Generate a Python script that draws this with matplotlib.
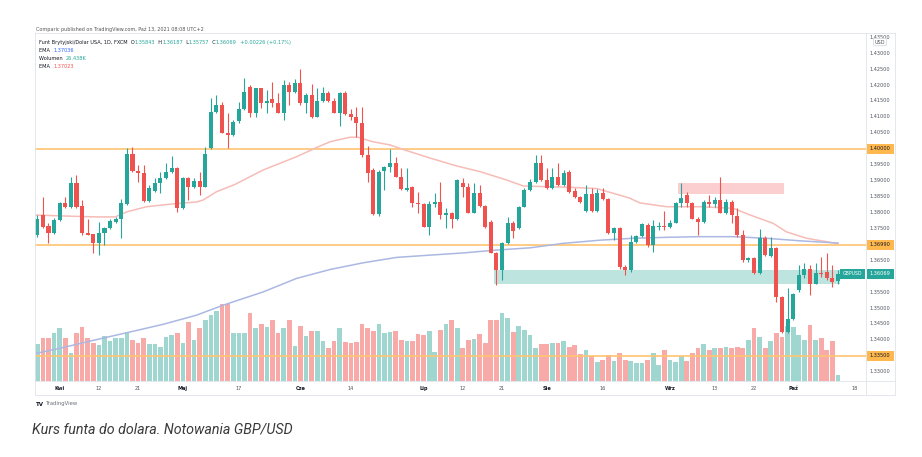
import matplotlib.pyplot as plt
import numpy as np
import pandas as pd
from matplotlib.patches import Rectangle
from matplotlib.lines import Line2D

# GBP/USD daily candles, FXCM, 26 Mar - 13 Oct 2021
dates = pd.bdate_range('2021-03-26', periods=144)
opens = [1.3729, 1.3792, 1.3758, 1.3737, 1.3776, 1.3829, 1.3818, 1.3893, 1.3820, 1.3736,
         1.3732, 1.3703, 1.3734, 1.3750, 1.3771, 1.3778, 1.3826, 1.3983, 1.3930, 1.3923,
         1.3837, 1.3868, 1.3894, 1.3909, 1.3928, 1.3938, 1.3813, 1.3907, 1.3881, 1.3900,
         1.3881, 1.4001, 1.4116, 1.4137, 1.4050, 1.4043, 1.4088, 1.4124, 1.4195, 1.4113,
         1.4190, 1.4145, 1.4155, 1.4144, 1.4113, 1.4200, 1.4179, 1.4205, 1.4143, 1.4169,
         1.4100, 1.4151, 1.4176, 1.4151, 1.4113, 1.4176, 1.4108, 1.4100, 1.4080, 1.3980,
         1.3933, 1.3795, 1.3931, 1.3943, 1.3956, 1.3912, 1.3870, 1.3879, 1.3830, 1.3826,
         1.3755, 1.3826, 1.3834, 1.3792, 1.3797, 1.3778, 1.3891, 1.3879, 1.3799, 1.3860,
         1.3820, 1.3771, 1.3673, 1.3619, 1.3705, 1.3766, 1.3750, 1.3818, 1.3872, 1.3896,
         1.3954, 1.3902, 1.3876, 1.3910, 1.3886, 1.3928, 1.3868, 1.3847, 1.3805, 1.3858,
         1.3805, 1.3860, 1.3841, 1.3734, 1.3750, 1.3629, 1.3619, 1.3708, 1.3726, 1.3760,
         1.3698, 1.3753, 1.3757, 1.3753, 1.3768, 1.3829, 1.3855, 1.3829, 1.3781, 1.3771,
         1.3834, 1.3826, 1.3839, 1.3799, 1.3834, 1.3789, 1.3729, 1.3651, 1.3656, 1.3609,
         1.3719, 1.3663, 1.3690, 1.3535, 1.3425, 1.3467, 1.3556, 1.3603, 1.3624, 1.3577,
         1.3611, 1.3614, 1.3593, 1.35843]
highs = [1.3792, 1.3849, 1.3767, 1.3782, 1.3834, 1.3849, 1.3912, 1.3917, 1.3839, 1.3778,
         1.3732, 1.3771, 1.3755, 1.3778, 1.3786, 1.3841, 1.4001, 1.4006, 1.3949, 1.3949,
         1.3886, 1.3907, 1.3928, 1.3954, 1.3977, 1.3943, 1.3910, 1.3910, 1.3907, 1.3928,
         1.4004, 1.4158, 1.4169, 1.4148, 1.4111, 1.4090, 1.4148, 1.4221, 1.4200, 1.4191,
         1.4191, 1.4184, 1.4210, 1.4174, 1.4216, 1.4210, 1.4218, 1.4249, 1.4174, 1.4203,
         1.4190, 1.4195, 1.4182, 1.4158, 1.4179, 1.4182, 1.4124, 1.4132, 1.4132, 1.4008,
         1.3938, 1.3933, 1.3946, 1.3998, 1.3975, 1.3938, 1.3938, 1.3883, 1.3865, 1.3830,
         1.3837, 1.3860, 1.3896, 1.3813, 1.3802, 1.3904, 1.3907, 1.3891, 1.3891, 1.3886,
         1.3823, 1.3776, 1.3677, 1.3708, 1.3786, 1.3774, 1.3820, 1.3876, 1.3904, 1.3980,
         1.3980, 1.3938, 1.3938, 1.3954, 1.3933, 1.3933, 1.3876, 1.3851, 1.3886, 1.3876,
         1.3873, 1.3876, 1.3844, 1.3755, 1.3753, 1.3635, 1.3729, 1.3729, 1.3766, 1.3766,
         1.3776, 1.3771, 1.3805, 1.3776, 1.3834, 1.3891, 1.3865, 1.3834, 1.3786, 1.3839,
         1.3855, 1.3849, 1.3912, 1.3841, 1.3839, 1.3813, 1.3745, 1.3661, 1.3661, 1.3747,
         1.3726, 1.3722, 1.3692, 1.3537, 1.3563, 1.3547, 1.3635, 1.3641, 1.3635, 1.3640,
         1.3661, 1.3672, 1.3635, 1.36187]
lows = [1.3723, 1.3751, 1.3705, 1.3732, 1.3774, 1.3813, 1.3813, 1.3814, 1.3729, 1.3729,
        1.3672, 1.3666, 1.3698, 1.3748, 1.3766, 1.3719, 1.3823, 1.3928, 1.3896, 1.3834,
        1.3834, 1.3865, 1.3860, 1.3904, 1.3925, 1.3802, 1.3810, 1.3839, 1.3878, 1.3855,
        1.3879, 1.3998, 1.4111, 1.4048, 1.4001, 1.4040, 1.4082, 1.4122, 1.4100, 1.4100,
        1.4128, 1.4111, 1.4132, 1.4111, 1.4090, 1.4137, 1.4176, 1.4137, 1.4111, 1.4095,
        1.4099, 1.4148, 1.4148, 1.4111, 1.4071, 1.4106, 1.4090, 1.4038, 1.3975, 1.3896,
        1.3792, 1.3789, 1.3870, 1.3928, 1.3910, 1.3870, 1.3868, 1.3816, 1.3797, 1.3753,
        1.3729, 1.3818, 1.3778, 1.3750, 1.3750, 1.3776, 1.3849, 1.3797, 1.3797, 1.3818,
        1.3750, 1.3672, 1.3572, 1.3588, 1.3701, 1.3719, 1.3747, 1.3816, 1.3868, 1.3893,
        1.3900, 1.3873, 1.3873, 1.3883, 1.3883, 1.3862, 1.3844, 1.3829, 1.3802, 1.3802,
        1.3802, 1.3839, 1.3732, 1.3713, 1.3624, 1.3603, 1.3614, 1.3703, 1.3722, 1.3692,
        1.3677, 1.3745, 1.3745, 1.3750, 1.3766, 1.3818, 1.3818, 1.3778, 1.3729, 1.3768,
        1.3818, 1.3818, 1.3797, 1.3795, 1.3766, 1.3724, 1.3645, 1.3645, 1.3607, 1.3607,
        1.3663, 1.3661, 1.3520, 1.3422, 1.3421, 1.3464, 1.3551, 1.3594, 1.3540, 1.3575,
        1.3598, 1.3588, 1.3567, 1.35757]
closes = [1.3781, 1.3755, 1.3737, 1.3776, 1.3829, 1.3816, 1.3893, 1.3818, 1.3734, 1.3730,
          1.3703, 1.3734, 1.3750, 1.3773, 1.3781, 1.3830, 1.3983, 1.3930, 1.3923, 1.3837,
          1.3878, 1.3894, 1.3909, 1.3928, 1.3938, 1.3813, 1.3907, 1.3881, 1.3900, 1.3881,
          1.3983, 1.4116, 1.4137, 1.4050, 1.4043, 1.4085, 1.4124, 1.4179, 1.4113, 1.4190,
          1.4143, 1.4150, 1.4144, 1.4113, 1.4200, 1.4179, 1.4205, 1.4143, 1.4169, 1.4100,
          1.4151, 1.4176, 1.4151, 1.4113, 1.4176, 1.4108, 1.4100, 1.4080, 1.3980, 1.3923,
          1.3795, 1.3928, 1.3943, 1.3956, 1.3912, 1.3873, 1.3876, 1.3830, 1.3826, 1.3755,
          1.3826, 1.3834, 1.3792, 1.3797, 1.3779, 1.3902, 1.3879, 1.3799, 1.3860, 1.3820,
          1.3753, 1.3673, 1.3619, 1.3705, 1.3766, 1.3742, 1.3818, 1.3872, 1.3896, 1.3954,
          1.3902, 1.3876, 1.3912, 1.3886, 1.3925, 1.3865, 1.3847, 1.3832, 1.3858, 1.3805,
          1.3860, 1.3841, 1.3734, 1.3750, 1.3629, 1.3619, 1.3708, 1.3726, 1.3764, 1.3698,
          1.3757, 1.3757, 1.3753, 1.3768, 1.3829, 1.3844, 1.3829, 1.3781, 1.3771, 1.3834,
          1.3826, 1.3839, 1.3799, 1.3834, 1.3792, 1.3729, 1.3651, 1.3656, 1.3609, 1.3719,
          1.3666, 1.3690, 1.3535, 1.3425, 1.3467, 1.3544, 1.3603, 1.3624, 1.3577, 1.3611,
          1.3607, 1.3593, 1.3582, 1.36069]
# volume in thousands
volumes = [161, 191, 191, 209, 235, 191, 123, 209, 238, 191,
           167, 157, 198, 176, 191, 191, 216, 179, 165, 187,
           161, 161, 150, 194, 201, 211, 167, 260, 182, 231,
           270, 289, 308, 337, 337, 211, 211, 209, 297, 231,
           249, 238, 270, 209, 231, 270, 152, 241, 197, 220,
           220, 176, 143, 176, 235, 172, 165, 172, 252, 231,
           220, 252, 209, 216, 219, 179, 175, 175, 206, 201,
           219, 128, 226, 252, 267, 233, 147, 182, 184, 206,
           167, 270, 270, 301, 277, 216, 242, 223, 201, 143,
           161, 161, 167, 167, 175, 150, 157, 117, 135, 109,
           84, 94, 113, 88, 121, 94, 87, 81, 79, 91,
           121, 69, 135, 94, 84, 109, 88, 121, 143, 161,
           135, 147, 143, 150, 147, 150, 147, 179, 231, 194,
           147, 176, 211, 194, 241, 238, 201, 179, 245, 179,
           187, 135, 176, 25]

# EMA lines (candle number, price)
ema50_idx = [-0.4, 4.6, 10.6, 13.9, 16.0, 19.5, 23.7, 28.5, 29.6, 32.0, 35.3, 40.3, 46.3,
             49.9, 52.3, 55.8, 57.3, 59.9, 63.0, 65.3, 70.1, 74.9, 79.1, 83.8, 86.8, 91.0,
             95.1, 99.9, 102.9, 105.8, 107.6, 112.4, 118.3, 124.3, 127.3, 131.4, 133.8,
             137.4, 143.0]
ema50_val = [1.3792, 1.3789, 1.3786, 1.3786, 1.3802, 1.3818, 1.3826, 1.3833, 1.3839, 1.3865,
             1.3888, 1.3933, 1.3975, 1.4004, 1.4022, 1.4036, 1.4036, 1.4022, 1.4012, 1.3998,
             1.3971, 1.3946, 1.3928, 1.3902, 1.3883, 1.3881, 1.3879, 1.3875, 1.3860, 1.3845,
             1.3830, 1.3818, 1.3818, 1.3813, 1.3792, 1.3766, 1.3739, 1.3719, 1.3702]
ema200_idx = [-0.4, 4.6, 10.6, 16.6, 22.5, 28.5, 33.2, 40.4, 46.3, 52.3, 58.2, 64.2, 70.1,
              76.1, 82.0, 88.0, 93.9, 100.5, 106.4, 112.4, 118.3, 124.3, 130.2, 136.2, 143.0]
ema200_val = [1.3357, 1.3376, 1.3401, 1.3425, 1.3449, 1.3478, 1.3509, 1.3551, 1.3593, 1.3621,
              1.3642, 1.3659, 1.3666, 1.3673, 1.3682, 1.3689, 1.3703, 1.3713, 1.3719, 1.3722,
              1.3724, 1.3724, 1.3719, 1.3711, 1.3704]

levels = [1.40000, 1.36990, 1.33500]
demand_zone = ('2021-07-20', 1.3577, 1.3619)
supply_zone = ('2021-09-02', '2021-09-29', 1.3858, 1.3891)
last_price = 1.36069
price_ticks = [1.435, 1.43, 1.425, 1.42, 1.415, 1.41, 1.405, 1.395, 1.39, 1.385, 1.38,
               1.375, 1.365, 1.355, 1.35, 1.345, 1.34, 1.33]
date_ticks = ['2021-04-01', '2021-04-12', '2021-04-21', '2021-05-03', '2021-05-17',
              '2021-06-01', '2021-06-14', '2021-07-01', '2021-07-12', '2021-07-21',
              '2021-08-02', '2021-08-16', '2021-09-01', '2021-09-13', '2021-09-22',
              '2021-10-01', '2021-10-18']
month_names = {4: 'Kwi', 5: 'Maj', 6: 'Cze', 7: 'Lip', 8: 'Sie', 9: 'Wrz', 10: 'Paź'}

TEAL = '#26a69a'
RED = '#ef5350'
ORANGE = '#ffc470'
TXT = '#50535e'

W, H = 922, 457
fig = plt.figure(figsize=(W / 100, H / 100), dpi=100)


def fx(px):
    return px / W


def fy(py):
    return 1 - py / H


rect = [fx(35), fy(381), fx(866) - fx(35), fy(35) - fy(381)]
axv = fig.add_axes(rect)
ax = fig.add_axes(rect, sharex=axv)
ax.patch.set_visible(False)
for a in (ax, axv):
    for s in a.spines.values():
        s.set_visible(False)
    a.tick_params(left=False, bottom=False, labelleft=False, labelbottom=False)

x = np.arange(len(opens))
o, h, l, c = (np.array(v) for v in (opens, highs, lows, closes))
up = c >= o
col = np.where(up, TEAL, RED)

# volume pane
axv.bar(x, volumes, width=0.84, color=np.where(up, '#9fd6d0', '#f7aaa8'), linewidth=0)
axv.set_ylim(0, 1522)

ax.set_xlim(-0.41, 148.0)
ax.set_ylim(1.3271, 1.4357)

# zones
z0 = dates.get_loc(pd.Timestamp(demand_zone[0])) - 0.4
ax.add_patch(Rectangle((z0, demand_zone[1]), len(dates) - 0.6 - z0, demand_zone[2] - demand_zone[1],
                       color='#bde4df', lw=0, zorder=1))
s0 = dates.get_loc(pd.Timestamp(supply_zone[0])) + 0.4
s1 = dates.get_loc(pd.Timestamp(supply_zone[1])) + 0.3
ax.add_patch(Rectangle((s0, supply_zone[2]), s1 - s0, supply_zone[3] - supply_zone[2],
                       color='#fbcfcf', lw=0, zorder=1))

for lv in levels:
    ax.axhline(lv, color=ORANGE, lw=1.2, zorder=2)

ax.plot(ema50_idx, ema50_val, color='#f6bcb7', lw=1.1, zorder=3)
ax.plot(ema200_idx, ema200_val, color='#abb8e2', lw=1.1, zorder=3)

# candles
ax.vlines(x, l, h, colors=col, lw=0.8, zorder=4)
ax.bar(x, np.maximum(np.abs(c - o), 0.00012), bottom=np.minimum(o, c), width=0.72,
       color=col, linewidth=0, zorder=5)

# right price scale
ytr = ax.get_yaxis_transform()
for p in price_ticks:
    ax.text(1.0045, p, f'{p:.5f}', transform=ytr, fontsize=3.6, color=TXT,
            va='center', ha='left', clip_on=False)
bh = 0.0031
for lv in levels:
    ax.add_patch(Rectangle((1.0012, lv - bh / 2), 0.0325, bh, transform=ytr,
                           color='#ffb84d', lw=0, clip_on=False, zorder=6))
    ax.text(1.0045, lv, f'{lv:.5f}', transform=ytr, fontsize=3.6, color='#131722',
            va='center', ha='left', clip_on=False, zorder=7)
ax.add_patch(Rectangle((1.0012, last_price - bh / 2), 0.0325, bh, transform=ytr,
                       color=TEAL, lw=0, clip_on=False, zorder=6))
ax.text(1.0045, last_price, f'{last_price:.5f}', transform=ytr, fontsize=3.6,
        color='white', va='center', ha='left', clip_on=False, zorder=7)
ax.add_patch(Rectangle((0.9687, last_price - bh / 2), 0.0301, bh, transform=ytr,
                       color=TEAL, lw=0, clip_on=False, zorder=6))
ax.text(0.9837, last_price, 'GBPUSD', transform=ytr, fontsize=3.3, color='white',
        va='center', ha='center', clip_on=False, zorder=7)
fig.text(fx(880), fy(42), 'USD', fontsize=3.6, color=TXT, ha='center', va='center',
         bbox=dict(boxstyle='round,pad=0.25', fc='white', ec='#d1d4dc', lw=0.5))

# date axis
xtr = ax.get_xaxis_transform()
all_days = pd.bdate_range(dates[0], '2021-10-18')
for d in date_ticks:
    d = pd.Timestamp(d)
    i = all_days.get_loc(d)
    if d.day <= 3:
        ax.text(i, -0.023, month_names[d.month], transform=xtr, fontsize=3.6,
                color='#131722', fontweight='bold', ha='center', va='center', clip_on=False)
    else:
        ax.text(i, -0.023, str(d.day), transform=xtr, fontsize=3.6, color=TXT,
                ha='center', va='center', clip_on=False)

# frame
frame = '#e0e3eb'
for (x0, y0, x1, y1) in [(35, 33, 895, 33), (35, 395, 895, 395), (35, 33, 35, 395),
                         (895, 33, 895, 395), (866, 33, 866, 395), (35, 381, 895, 381)]:
    fig.add_artist(Line2D([fx(x0), fx(x1)], [fy(y0), fy(y1)], color=frame, lw=0.6))


# legend texts, each part placed right after the previous one
def chain(parts, x0, y0):
    prev = fig.text(fx(x0), fy(y0), parts[0][0], color=parts[0][1], fontsize=3.6, va='baseline')
    for s, cl in parts[1:]:
        prev = fig.add_artist(plt.Annotation(s, xy=(1, 0), xycoords=prev, color=cl,
                                             fontsize=3.6, va='bottom', annotation_clip=False))
    return prev


chain([('Funt Brytyjski/Dolar USA, 1D, FXCM  O', '#131722'), ('1.35843', TEAL),
       ('  H', '#131722'), ('1.36187', TEAL), ('  L', '#131722'), ('1.35757', TEAL),
       ('  C', '#131722'), ('1.36069', TEAL), ('  +0.00226 (+0.17%)', TEAL)], 39, 44)
chain([('EMA  ', '#131722'), ('1.37036', '#2962ff')], 39, 51.5)
chain([('Wolumen  ', '#131722'), ('26.438K', TEAL)], 39, 59.5)
chain([('EMA  ', '#131722'), ('1.37023', RED)], 39, 67.5)

fig.text(fx(36), fy(30.5), 'Comparic published on TradingView.com, Paź 13, 2021 08:08 UTC+2',
         fontsize=3.5, color='#555555', va='baseline')
fig.text(fx(36), fy(404), 'TV', fontsize=4, color='#131722', fontweight='bold', va='center')
fig.text(fx(46), fy(404), 'TradingView', fontsize=3.8, color='#6a6d78', va='center')
fig.text(fx(32), fy(429), 'Kurs funta do dolara. Notowania GBP/USD', fontsize=10.3,
         family='Roboto', style='italic', color='#3a3a3a', va='center')

fig.savefig('out.png', dpi=100)
